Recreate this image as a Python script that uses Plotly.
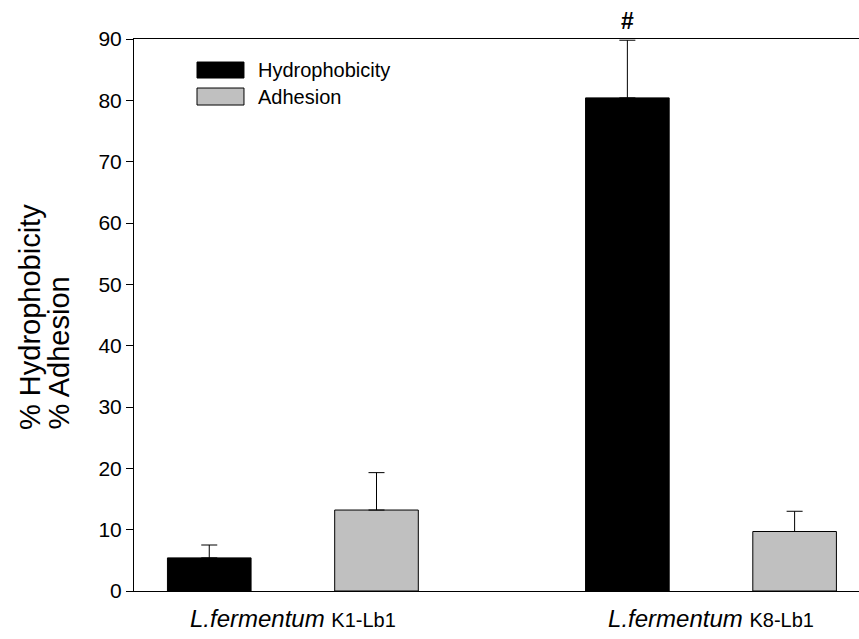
import plotly.graph_objects as go

strains = ["K1-Lb1", "K8-Lb1"]
species = "L.fermentum"
hydrophobicity = [5.4, 80.4]
hydrophobicity_err = [2.1, 9.4]
adhesion = [13.2, 9.7]
adhesion_err = [6.1, 3.3]
series_names = ["Hydrophobicity", "Adhesion"]
y_ticks = [0, 10, 20, 30, 40, 50, 60, 70, 80, 90]
y_title_lines = ["% Hydrophobicity", "% Adhesion"]
sig_marker = ["", "#"]

FONT = "Arial, Liberation Sans, sans-serif"
colors = ["#000000", "#c0c0c0"]

xpos = list(range(len(strains)))
fig = go.Figure()
for name, vals, errs, col in [
    (series_names[0], hydrophobicity, hydrophobicity_err, colors[0]),
    (series_names[1], adhesion, adhesion_err, colors[1]),
]:
    fig.add_trace(go.Bar(
        x=xpos, y=vals, name=name,
        marker=dict(color=col, line=dict(color="black", width=1)),
        error_y=dict(type="data", array=errs, arrayminus=[0] * len(errs),
                     symmetric=False, color="black", thickness=1, width=8),
        showlegend=False,
    ))

ticktext = [f"<i>{species}</i> <span style='font-size:20px'>{s}</span>" for s in strains]

fig.update_layout(
    width=859, height=639,
    margin=dict(l=134, r=0, t=39, b=48),
    paper_bgcolor="white", plot_bgcolor="white",
    barmode="group", bargap=0.2, bargroupgap=0.5,
    font=dict(family=FONT, color="black", size=21),
    xaxis=dict(range=[-0.380, 1.354], tickvals=xpos, ticktext=ticktext,
               showline=True, linecolor="black", linewidth=1, mirror=True,
               ticks="", showgrid=False, zeroline=False, ticklabelstandoff=6,
               tickfont=dict(size=24, family=FONT)),
    yaxis=dict(range=[0, 90], tickvals=y_ticks, showline=True, linecolor="black",
               linewidth=1, ticks="outside", ticklen=7, tickcolor="black",
               showgrid=False, zeroline=False, tickfont=dict(size=21, family=FONT)),
)

# y-axis title (two lines, start-aligned)
for line, xs in zip(y_title_lines, [-104, -75]):
    fig.add_annotation(text=line, xref="paper", yref="paper",
                       x=0, y=0.288, xanchor="center", yanchor="bottom", xshift=xs,
                       textangle=-90, showarrow=False,
                       font=dict(size=29, family=FONT))

# significance marker
for i, m in enumerate(sig_marker):
    if m:
        fig.add_annotation(text=f"<b>{m}</b>", x=xpos[i] - 0.2,
                           y=hydrophobicity[i] + hydrophobicity_err[i],
                           yanchor="bottom", showarrow=False, yshift=4,
                           font=dict(size=23, family=FONT))

# manual legend
leg = [(series_names[0], colors[0], 0.9583, 0.9293, 0.9438),
       (series_names[1], colors[1], 0.9112, 0.8804, 0.8958)]
for name, col, y1, y0, yc in leg:
    fig.add_shape(type="rect", xref="paper", yref="paper", x0=0.0869, x1=0.1517,
                  y0=y0, y1=y1, fillcolor=col, line=dict(color="black", width=1))
    fig.add_annotation(text=name, xref="paper", yref="paper", x=0.1683, y=yc,
                       xanchor="left", yanchor="middle", showarrow=False,
                       font=dict(size=20, family=FONT))

fig.write_html("out.html", config={"displayModeBar": False},
               post_script="document.body.style.margin='0';document.body.style.padding='0';")
